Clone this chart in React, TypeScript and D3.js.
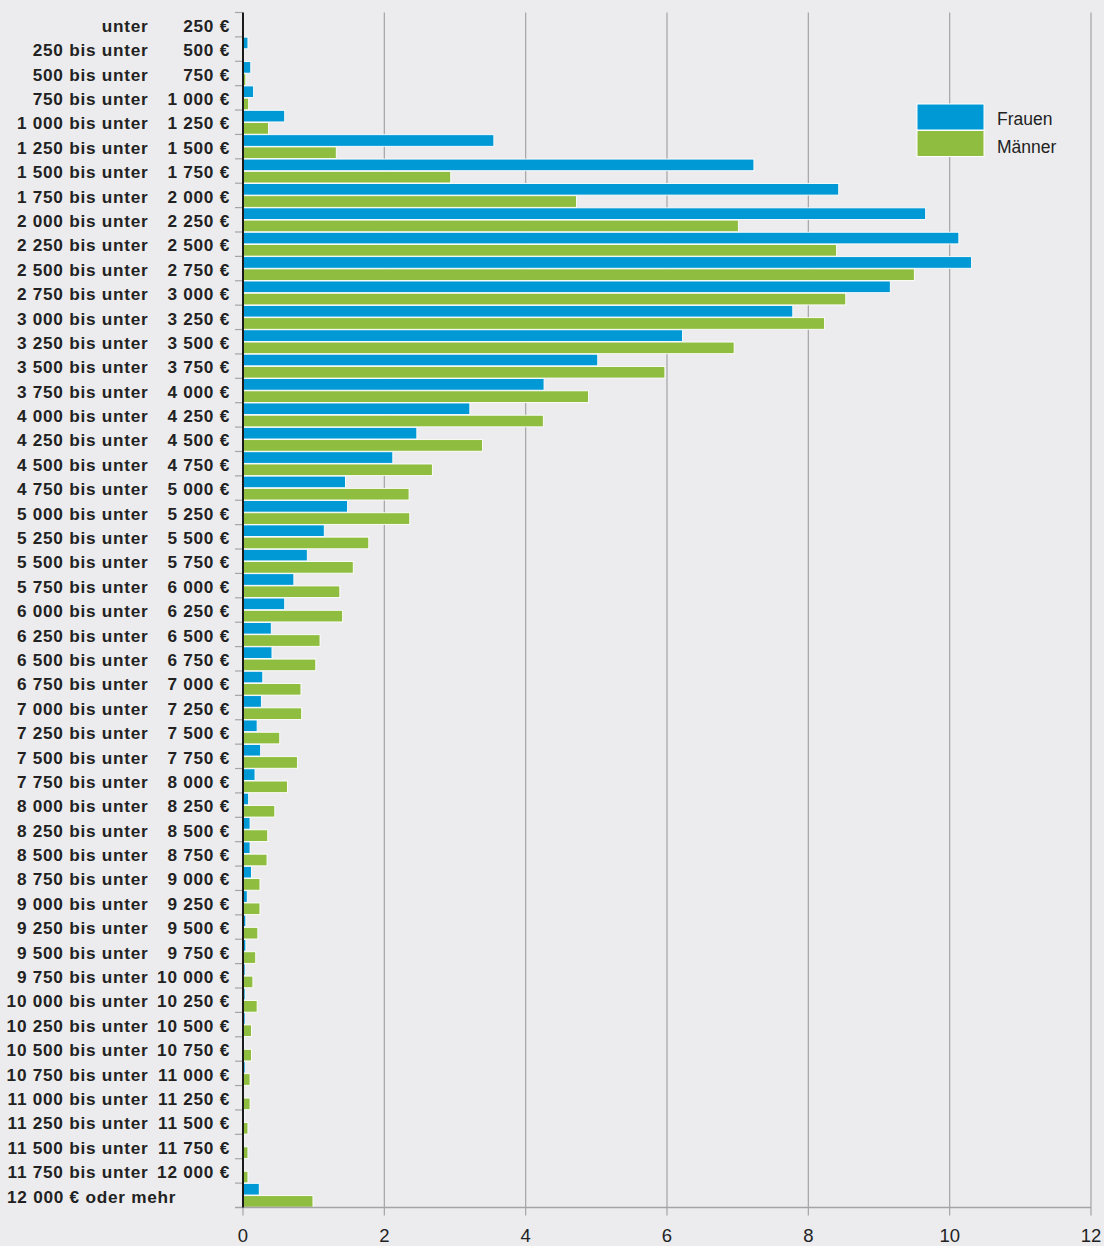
import React from "react";
import * as d3 from "d3";

const leftLabels = [
  "unter", "250 bis unter", "500 bis unter", "750 bis unter", "1 000 bis unter", "1 250 bis unter",
  "1 500 bis unter", "1 750 bis unter", "2 000 bis unter", "2 250 bis unter", "2 500 bis unter",
  "2 750 bis unter", "3 000 bis unter", "3 250 bis unter", "3 500 bis unter", "3 750 bis unter",
  "4 000 bis unter", "4 250 bis unter", "4 500 bis unter", "4 750 bis unter", "5 000 bis unter",
  "5 250 bis unter", "5 500 bis unter", "5 750 bis unter", "6 000 bis unter", "6 250 bis unter",
  "6 500 bis unter", "6 750 bis unter", "7 000 bis unter", "7 250 bis unter", "7 500 bis unter",
  "7 750 bis unter", "8 000 bis unter", "8 250 bis unter", "8 500 bis unter", "8 750 bis unter",
  "9 000 bis unter", "9 250 bis unter", "9 500 bis unter", "9 750 bis unter", "10 000 bis unter",
  "10 250 bis unter", "10 500 bis unter", "10 750 bis unter", "11 000 bis unter", "11 250 bis unter",
  "11 500 bis unter", "11 750 bis unter", "12 000 € oder mehr",
];

const rightLabels = [
  "250 €", "500 €", "750 €", "1 000 €", "1 250 €", "1 500 €", "1 750 €", "2 000 €", "2 250 €",
  "2 500 €", "2 750 €", "3 000 €", "3 250 €", "3 500 €", "3 750 €", "4 000 €", "4 250 €", "4 500 €",
  "4 750 €", "5 000 €", "5 250 €", "5 500 €", "5 750 €", "6 000 €", "6 250 €", "6 500 €", "6 750 €",
  "7 000 €", "7 250 €", "7 500 €", "7 750 €", "8 000 €", "8 250 €", "8 500 €", "8 750 €", "9 000 €",
  "9 250 €", "9 500 €", "9 750 €", "10 000 €", "10 250 €", "10 500 €", "10 750 €", "11 000 €",
  "11 250 €", "11 500 €", "11 750 €", "12 000 €", "",
];

const frauen = [
  0.01, 0.07, 0.11, 0.15, 0.59, 3.55, 7.23, 8.43, 9.66, 10.13, 10.31, 9.16, 7.78, 6.22, 5.02, 4.26,
  3.21, 2.46, 2.12, 1.45, 1.48, 1.15, 0.91, 0.72, 0.59, 0.40, 0.41, 0.28, 0.26, 0.20, 0.25, 0.17,
  0.08, 0.10, 0.10, 0.12, 0.06, 0.04, 0.04, 0.03, 0.03, 0.03, 0.02, 0.03, 0.005, 0.02, 0.02, 0.01,
  0.23,
];

const maenner = [
  0.0, 0.01, 0.04, 0.08, 0.36, 1.32, 2.94, 4.72, 7.01, 8.40, 9.50, 8.53, 8.23, 6.95, 5.97, 4.89,
  4.25, 3.39, 2.68, 2.35, 2.36, 1.78, 1.56, 1.37, 1.41, 1.09, 1.03, 0.82, 0.83, 0.52, 0.77, 0.63,
  0.45, 0.35, 0.34, 0.24, 0.24, 0.21, 0.18, 0.14, 0.20, 0.12, 0.12, 0.10, 0.10, 0.07, 0.07, 0.07,
  0.99,
];

const xTicks = [0, 2, 4, 6, 8, 10, 12];
const seriesNames = ["Frauen", "Männer"];
const seriesColors = ["#0099d6", "#8fbd3f"];

const W = 1104;
const H = 1246;
const BG = "#ececee";
const FONT = "'Liberation Sans', Arial, Helvetica, sans-serif";

export default function App() {
  const x = d3.scaleLinear().domain([0, 12]).range([243, 1091]);
  const idx = leftLabels.map((_, i) => String(i));
  const y = d3.scaleBand<string>().domain(idx).range([12.5, 1207.5]).padding(0);
  const inner = d3
    .scaleBand<string>()
    .domain(seriesNames)
    .range([0, y.bandwidth()])
    .paddingInner(0.05)
    .paddingOuter(0.02);
  const series = [frauen, maenner];
  const axisY = 1207.5;

  return (
    <svg
      width={W}
      height={H}
      style={{ position: "absolute", left: 0, top: 0, background: BG }}
      fontFamily={FONT}
    >
      <rect x={0} y={0} width={W} height={H} fill={BG} />
      {xTicks.slice(1).map((t) => (
        <line
          key={"g" + t}
          x1={x(t)}
          x2={x(t)}
          y1={12.5}
          y2={axisY + 8}
          stroke="#a4a4a6"
          strokeWidth={1.2}
        />
      ))}
      <line x1={x(0)} x2={x(0)} y1={axisY} y2={axisY + 8} stroke="#a4a4a6" strokeWidth={1.2} />
      {idx.map((k) => (
        <line
          key={"yt" + k}
          x1={235}
          x2={243}
          y1={y(k)!}
          y2={y(k)!}
          stroke="#a4a4a6"
          strokeWidth={1.2}
        />
      ))}
      {series.map((vals, si) =>
        vals.map((v, i) => {
          const w = x(v) - x(0);
          if (w <= 0) return null;
          return (
            <rect
              key={si + "-" + i}
              x={x(0)}
              y={y(String(i))! + inner(seriesNames[si])!}
              width={w}
              height={inner.bandwidth()}
              fill={seriesColors[si]}
              stroke="#ffffff"
              strokeWidth={0.9}
            />
          );
        })
      )}
      <line x1={235} x2={x(12)} y1={axisY} y2={axisY} stroke="#a4a4a6" strokeWidth={1.5} />
      <line x1={x(0)} x2={x(0)} y1={12.5} y2={axisY} stroke="#1a1a1a" strokeWidth={2} />
      {leftLabels.map((lab, i) => {
        const cy = y(String(i))! + y.bandwidth() / 2 + 7.2;
        const last = rightLabels[i] === "";
        return (
          <g key={"l" + i} fontSize={17.2} fontWeight="bold" fill="#222" letterSpacing={0.75}>
            {last ? (
              <text x={7} y={cy} textAnchor="start">
                {lab}
              </text>
            ) : (
              <>
                <text x={148.5} y={cy} textAnchor="end">
                  {lab}
                </text>
                <text x={230} y={cy} textAnchor="end">
                  {rightLabels[i]}
                </text>
              </>
            )}
          </g>
        );
      })}
      {xTicks.map((t) => (
        <text
          key={"xl" + t}
          x={x(t)}
          y={1242}
          textAnchor="middle"
          fontSize={18.5}
          fill="#222"
        >
          {t}
        </text>
      ))}
      {seriesNames.map((n, i) => (
        <g key={"lg" + n}>
          <rect
            x={917}
            y={104 + i * 26.5}
            width={67}
            height={26}
            fill={seriesColors[i]}
            stroke="#ffffff"
            strokeWidth={1}
          />
          <text x={997} y={125.3 + i * 27.2} fontSize={17.5} fill="#222">
            {n}
          </text>
        </g>
      ))}
    </svg>
  );
}
